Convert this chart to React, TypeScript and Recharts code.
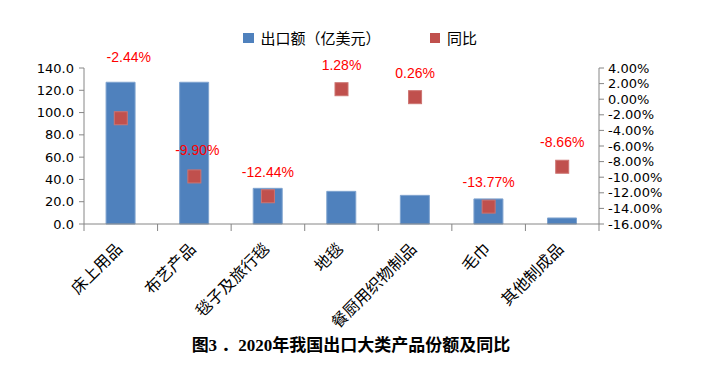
import React from 'react';
import { ComposedChart, Bar, Scatter, XAxis, YAxis, LabelList } from 'recharts';

// categories and values
const categories = ['床上用品', '布艺产品', '毯子及旅行毯', '地毯', '餐厨用织物制品', '毛巾', '其他制成品'];
const exportValues = [127.2, 127.2, 32.0, 29.3, 25.7, 22.5, 5.4];
const yoyValues = [-2.44, -9.9, -12.44, 1.28, 0.26, -13.77, -8.66];
const leftTicks = [0, 20, 40, 60, 80, 100, 120, 140];
const rightTicks = [-16, -14, -12, -10, -8, -6, -4, -2, 0, 2, 4];

const data = categories.map((name, i) => ({
    name,
    value: exportValues[i],
    yoy: yoyValues[i],
}));

const BLUE = '#4F81BD';
const RED = '#C0504D';
const AXIS = '#868686';
const TICK_FONT = '"DejaVu Sans", sans-serif';
const CJK_FONT = '"Noto Sans CJK SC", sans-serif';

const W = 728;
const H = 378;
const margin = { top: 68, right: 59, bottom: 44, left: 34 };
const plotWidth = W - margin.left - margin.right - 50 - 70;

// label placement tweaks (the first two labels were nudged by hand in the original)
const labelNudge: Record<number, [number, number]> = { 0: [8, -61], 1: [3, -26] };

function CategoryTick(props: any) {
    const { x, y, payload, index } = props;
    const half = payload.offset || plotWidth / categories.length / 2;
    const last = index === categories.length - 1;
    return (
        <g>
            <line x1={x - half} x2={x - half} y1={y} y2={y + 7} stroke={AXIS} />
            {last && <line x1={x + half} x2={x + half} y1={y} y2={y + 7} stroke={AXIS} />}
            <text
                transform={`translate(${x - 1.5},${y + 22}) rotate(-45)`}
                textAnchor="end"
                dy="0.35em"
                fontSize={16}
                fontFamily={CJK_FONT}
                fill="#000"
            >
                {payload.value}
            </text>
        </g>
    );
}

function YoyLabel(props: any) {
    const vb = props.viewBox && props.viewBox.width !== undefined ? props.viewBox : props;
    const cx = vb.x + (vb.width || 0) / 2;
    const cy = vb.y + (vb.height || 0) / 2;
    const [dx, dy] = labelNudge[props.index] ?? [0, -24.5];
    return (
        <text
            x={cx + dx}
            y={cy + dy}
            dy="0.35em"
            textAnchor="middle"
            fill="#FF0000"
            fontSize={14}
            fontFamily='"Liberation Sans", Arial, sans-serif'
        >
            {Number(props.value).toFixed(2)}%
        </text>
    );
}

function Square(props: any) {
    const { cx, cy } = props;
    return <rect x={cx - 6.5} y={cy - 6.5} width={13} height={13} fill={RED} stroke="#CD7471" strokeWidth={1} />;
}

function LegendBox() {
    const item = (color: string, label: string, gap: number) => (
        <div style={{ display: 'flex', alignItems: 'center', marginRight: gap }}>
            <span style={{ width: 10.5, height: 10.5, background: color, display: 'inline-block', marginRight: 7 }} />
            <span>{label}</span>
        </div>
    );
    return (
        <div
            style={{
                position: 'absolute',
                top: 28,
                left: 243,
                display: 'flex',
                alignItems: 'center',
                fontSize: 15,
                fontFamily: CJK_FONT,
                color: '#000',
                lineHeight: '20px',
            }}
        >
            {item(BLUE, '出口额（亿美元）', 49)}
            {item(RED, '同比', 0)}
        </div>
    );
}

export default function App() {
    return (
        <div style={{ position: 'absolute', left: 0, top: 0, width: W, height: H, background: '#fff' }}>
            <ComposedChart width={W} height={H} data={data} margin={margin} barCategoryGap="30%">
                <XAxis
                    dataKey="name"
                    height={110}
                    stroke={AXIS}
                    tickLine={false}
                    tickSize={0}
                    tickMargin={0}
                    interval={0}
                    tick={<CategoryTick />}
                />
                <YAxis
                    yAxisId="left"
                    width={50}
                    domain={[0, 140]}
                    ticks={leftTicks}
                    tickFormatter={(v: number) => v.toFixed(1)}
                    stroke={AXIS}
                    tickSize={5}
                    tickMargin={5}
                    tick={{ fill: '#000', fontSize: 13, fontFamily: TICK_FONT }}
                    interval={0}
                />
                <YAxis
                    yAxisId="right"
                    orientation="right"
                    width={70}
                    domain={[-16, 4]}
                    ticks={rightTicks}
                    tickFormatter={(v: number) => v.toFixed(2) + '%'}
                    stroke={AXIS}
                    tickSize={5}
                    tickMargin={4}
                    tick={{ fill: '#000', fontSize: 13, fontFamily: TICK_FONT }}
                    interval={0}
                />
                <Bar
                    yAxisId="left"
                    dataKey="value"
                    name="出口额（亿美元）"
                    fill={BLUE}
                    stroke="#7FA3CF"
                    strokeWidth={1}
                    isAnimationActive={false}
                />
                <Scatter
                    yAxisId="right"
                    dataKey="yoy"
                    name="同比"
                    fill={RED}
                    shape={<Square />}
                    isAnimationActive={false}
                >
                    <LabelList dataKey="yoy" content={<YoyLabel />} />
                </Scatter>
            </ComposedChart>
            <LegendBox />
            <div
                style={{
                    position: 'absolute',
                    left: 0,
                    top: 331,
                    width: 702,
                    textAlign: 'center',
                    fontSize: 17,
                    fontWeight: 'bold',
                    fontFamily: '"Liberation Serif", "Noto Sans CJK SC", serif',
                    color: '#000',
                }}
            >
                图3 ．2020年我国出口大类产品份额及同比
            </div>
        </div>
    );
}
